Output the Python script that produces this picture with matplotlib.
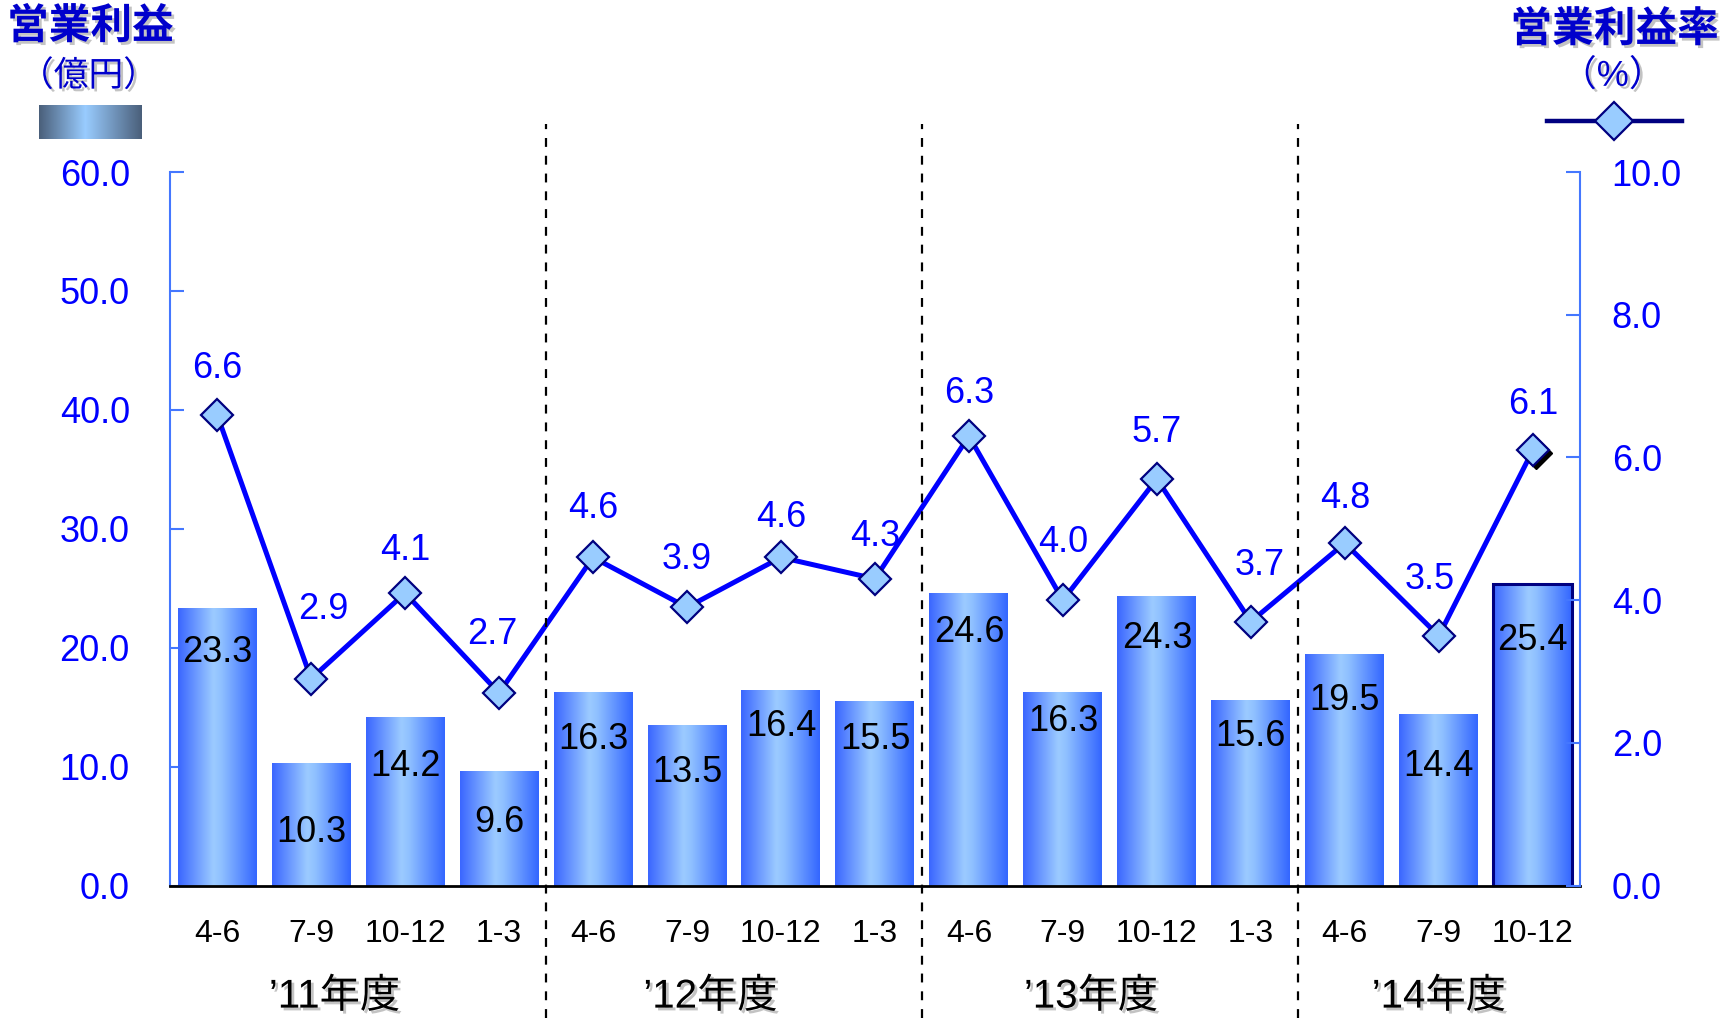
import numpy as np
import matplotlib
matplotlib.use("Agg")
import matplotlib.pyplot as plt
import matplotlib.patheffects as pe
from matplotlib.colors import LinearSegmentedColormap
from matplotlib.transforms import offset_copy

plt.rcParams['font.family'] = ['Liberation Sans', 'Noto Sans CJK JP', 'DejaVu Sans']

# ---- data ----
quarters = ["4-6", "7-9", "10-12", "1-3", "4-6", "7-9", "10-12", "1-3",
            "4-6", "7-9", "10-12", "1-3", "4-6", "7-9", "10-12"]
fiscal_years = ["’11年度", "’12年度", "’13年度", "’14年度"]
profit = [23.3, 10.3, 14.2, 9.6, 16.3, 13.5, 16.4, 15.5, 24.6, 16.3, 24.3, 15.6, 19.5, 14.4, 25.4]
margin = [6.6, 2.9, 4.1, 2.7, 4.6, 3.9, 4.6, 4.3, 6.3, 4.0, 5.7, 3.7, 4.8, 3.5, 6.1]
left_ticks = [0, 10, 20, 30, 40, 50, 60]
right_ticks = [0, 2, 4, 6, 8, 10]

# ---- layout (label placement) ----
bar_label_y = [19.6, 4.5, 10.0, 5.3, 12.3, 9.5, 13.4, 12.3, 21.3, 13.8, 20.8, 12.5, 15.6, 10.0, 20.6]
line_label_dy = [46, 69, 43, 58, 49, 48, 40, 42, 43, 58, 46, 56, 45, 56, 46]
line_label_dx = [0, 12, 0, -7, 0, 0, 0, 0, 0, 0, 0, 9, 0, -9, 0]
group_x = [1.25, 5.25, 9.3, 13.0]
group_sep = [3.5, 7.5, 11.5]

W, H = 17.36, 10.18
fig = plt.figure(figsize=(W, H), dpi=100)
fig.patch.set_facecolor('white')

spine_c = '#4477FF'
tick_c = '#0000FF'

ax = fig.add_axes([0.098, 0.130, 0.812, 0.701])
ax.set_xlim(-0.5, len(quarters) - 0.5)
ax.set_ylim(0, 60)

x = np.arange(len(quarters))
bw = 0.84
bar_cmap = LinearSegmentedColormap.from_list(
    'bar', [(0, '#3a66ff'), (0.45, '#9ccbff'), (0.55, '#8fc0ff'), (1.0, '#3366ff')])
grad = np.linspace(0, 1, 256).reshape(1, -1)
bars = ax.bar(x, profit, width=bw, color='none', edgecolor='none', zorder=2)
for i, b in enumerate(bars):
    x0, w, h = b.get_x(), b.get_width(), b.get_height()
    ax.imshow(grad, cmap=bar_cmap, extent=[x0, x0 + w, 0, h], aspect='auto',
              zorder=2, interpolation='bicubic')
# last bar border
lb = bars[-1]
ax.add_patch(plt.Rectangle((lb.get_x(), 0), lb.get_width(), lb.get_height(),
                           fill=False, edgecolor='#000080', linewidth=2.2, zorder=3))
ax.set_aspect('auto')
ax.set_xlim(-0.5, len(quarters) - 0.5)
ax.set_ylim(0, 60)

for i, v in enumerate(profit):
    ax.text(x[i], bar_label_y[i], f"{v:.1f}", ha='center', va='center',
            fontsize=26, color='black', zorder=4)

ax.set_yticks(left_ticks)
ax.set_yticklabels([f"{t:.1f}" for t in left_ticks])
ax.set_xticks(x)
ax.set_xticklabels(quarters)
ax.tick_params(axis='y', direction='in', length=10, width=1.5, color=spine_c,
               labelcolor=tick_c, labelsize=26, pad=29)
ax.tick_params(axis='x', length=0, labelsize=23, labelcolor='black', pad=24)
for s in ['top', 'right']:
    ax.spines[s].set_visible(False)
ax.spines['left'].set_color(spine_c)
ax.spines['left'].set_linewidth(1.5)
ax.spines['bottom'].set_color('black')
ax.spines['bottom'].set_linewidth(2)
ax.spines['bottom'].set_zorder(5)

ax2 = ax.twinx()
ax2.set_ylim(0, 10)
ax2.set_yticks(right_ticks)
ax2.set_yticklabels([f"{t:.1f}" for t in right_ticks])
ax2.tick_params(axis='y', direction='in', length=10, width=1.5, color=spine_c,
                labelcolor=tick_c, labelsize=26, pad=23)
for s in ['top', 'left', 'bottom']:
    ax2.spines[s].set_visible(False)
ax2.spines['right'].set_color(spine_c)
ax2.spines['right'].set_linewidth(1.5)

# shadow of last marker
shadow_tr = offset_copy(ax2.transData, fig=fig, x=3, y=-3, units='dots')
ax2.plot(x[-1:], margin[-1:], linestyle='none', marker='D', markersize=16,
         color='black', transform=shadow_tr, zorder=3)
ax2.plot(x, margin, color='#0000FF', linewidth=3.6, marker='D', markersize=16,
         markerfacecolor='#99CCFF', markeredgecolor='#000080', markeredgewidth=1.6, zorder=4)
for i, v in enumerate(margin):
    ax2.annotate(f"{v:.1f}", (x[i], v), xytext=(line_label_dx[i], line_label_dy[i]),
                 textcoords='offset pixels', ha='center', va='center',
                 fontsize=26, color='#0000FF', zorder=5)

# dashed group separators
for s in group_sep:
    xf = fig.transFigure.inverted().transform(ax.transData.transform((s, 0)))[0]
    fig.add_artist(plt.Line2D([xf, xf], [0.0, 0.878], transform=fig.transFigure,
                              color='black', linewidth=1.6, linestyle=(0, (4, 4))))

shadow = [pe.withSimplePatchShadow(offset=(2, -2), shadow_rgbFace='#888888', alpha=0.5)]
for gx, lab in zip(group_x, fiscal_years):
    xf = fig.transFigure.inverted().transform(ax.transData.transform((gx, 0)))[0]
    fig.text(xf, 0.021, lab, ha='center', va='center', fontsize=29, color='black',
             path_effects=shadow)

# titles
fig.text(0.052, 0.973, "営業利益", ha='center', va='center', fontsize=30,
         color='#0000CC', fontweight='bold', path_effects=shadow)
fig.text(0.051, 0.925, "（億円）", ha='center', va='center', fontsize=25,
         color='#0000CC', path_effects=shadow)
fig.text(0.930, 0.970, "営業利益率", ha='center', va='center', fontsize=30,
         color='#0000CC', fontweight='bold', path_effects=shadow)
fig.text(0.929, 0.925, "（%）", ha='center', va='center', fontsize=26,
         color='#0000CC', path_effects=shadow)

# legend swatches
lg = fig.add_axes([0.0225, 0.863, 0.059, 0.034])
leg_cmap = LinearSegmentedColormap.from_list(
    'leg', [(0, '#4a5f7a'), (0.45, '#99ccff'), (1.0, '#4a5f7a')])
lg.imshow(grad, cmap=leg_cmap, aspect='auto', extent=[0, 1, 0, 1])
lg.axis('off')

fig.add_artist(plt.Line2D([0.891, 0.969], [0.881, 0.881], transform=fig.transFigure,
                          color='#000080', linewidth=3.2))
fig.add_artist(plt.Line2D([0.930], [0.881], transform=fig.transFigure, marker='D',
                          markersize=19, markerfacecolor='#99CCFF',
                          markeredgecolor='#000080', markeredgewidth=1.6, linestyle='none'))

fig.savefig('out.png', dpi=100)
